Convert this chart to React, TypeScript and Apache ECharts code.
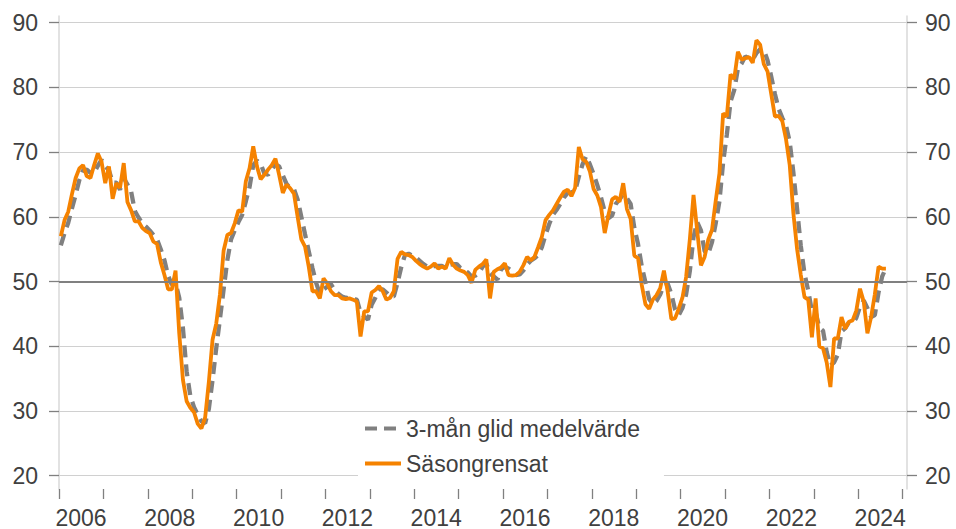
import React, { useEffect, useRef } from 'react';
import * as echarts from 'echarts';

const startYear = 2006;
const yearTicks = [2006, 2007, 2008, 2009, 2010, 2011, 2012, 2013, 2014, 2015, 2016, 2017, 2018, 2019, 2020, 2021, 2022, 2023, 2024, 2025];
const yearLabels = [2006, 2008, 2010, 2012, 2014, 2016, 2018, 2020, 2022, 2024];
const yTicks = [20, 30, 40, 50, 60, 70, 80, 90];
const seriesNames = ['3-mån glid medelvärde', 'Säsongrensat'];

// Monthly values, Jan 2006 onward
const sasongrensat = [
  57.0, 59.5, 60.8, 63.5, 66.0, 67.5, 68.0, 66.3, 66.0, 68.0, 69.8, 68.5,
  65.2, 67.8, 62.8, 65.2, 64.5, 68.3, 62.3, 61.0, 59.3, 59.3, 58.3, 57.8,
  57.5, 56.2, 55.8, 53.0, 51.0, 48.8, 48.8, 51.7, 42.0, 34.8, 31.5, 30.5,
  29.8, 28.0, 27.3, 29.0, 34.5, 41.0, 43.5, 48.0, 54.8, 57.2, 57.5, 59.0,
  61.0, 60.8, 65.5, 67.5, 70.9, 67.8, 65.8, 66.5, 67.3, 68.0, 69.0, 66.5,
  63.7, 65.0, 64.4, 63.6, 60.0, 56.5, 55.4, 52.3, 48.5, 48.5, 47.4, 50.5,
  49.7, 48.5, 47.9, 47.9, 47.4, 47.3, 47.4, 47.2, 46.9, 41.5, 45.4, 45.4,
  48.3, 48.7, 49.3, 48.5, 47.2, 47.5, 48.5, 53.5, 54.6, 54.2, 54.1, 53.8,
  53.2, 52.7, 52.3, 52.0, 52.3, 52.8, 52.0, 52.3, 52.0, 53.6, 52.6, 52.0,
  51.7, 51.5, 51.0, 49.8, 51.8, 52.3, 52.7, 53.4, 47.4, 51.5, 51.9, 52.2,
  52.8, 51.0, 50.9, 51.0, 51.5, 52.5, 53.8, 53.3, 53.8, 55.3, 56.9, 59.5,
  60.3, 61.0, 62.0, 63.0, 63.9, 64.2, 63.2, 64.5, 70.8, 68.9, 68.5, 67.0,
  64.3, 63.3, 61.5, 57.5, 60.3, 62.7, 63.1, 62.3, 65.2, 61.2, 59.7, 54.0,
  53.6, 49.5, 46.5, 45.8, 47.2, 47.9, 49.0, 51.7, 48.5, 44.2, 44.3, 45.8,
  47.5, 50.7, 56.5, 63.4, 57.8, 52.5, 53.8, 56.5, 58.0, 62.5, 66.7, 76.0,
  75.5, 82.0, 81.3, 85.5, 84.3, 84.5, 84.7, 83.8, 87.3, 86.6, 83.6, 82.5,
  79.0, 75.5, 75.6, 74.8, 72.0, 68.0, 60.5, 55.0, 51.0, 47.6, 47.2, 41.4,
  47.4, 40.0, 39.7, 37.5, 33.7, 41.2, 41.2, 44.5, 42.7, 43.8, 44.0, 45.5,
  48.9, 46.9, 42.0, 44.5, 48.0, 52.3, 52.0, 52.0,
];

const glidMedel = [
  55.6, 57.5, 59.1, 61.3, 63.4, 65.7, 67.2, 67.3, 66.8, 66.8, 67.9, 68.8,
  67.8, 67.2, 65.3, 65.3, 64.2, 66.0, 65.0, 63.9, 60.9, 59.9, 59.0, 58.5,
  57.9, 57.2, 56.5, 55.0, 53.3, 50.9, 49.5, 49.8, 47.5, 42.8, 36.1, 32.3,
  30.6, 29.4, 28.4, 28.1, 30.3, 34.8, 39.7, 44.2, 48.8, 53.3, 56.5, 57.9,
  59.2, 60.3, 62.4, 64.6, 68.0, 68.7, 68.2, 66.7, 66.5, 67.3, 68.1, 67.8,
  66.4, 65.1, 64.4, 64.3, 62.7, 60.0, 57.3, 54.7, 52.1, 49.8, 48.1, 48.8,
  49.2, 49.6, 48.7, 48.1, 47.7, 47.5, 47.4, 47.3, 47.2, 45.2, 44.6, 44.1,
  46.4, 47.5, 48.8, 48.8, 48.3, 47.7, 47.7, 49.8, 52.2, 54.1, 54.3, 54.0,
  53.7, 53.2, 52.7, 52.3, 52.2, 52.4, 52.4, 52.4, 52.1, 52.6, 52.7, 52.7,
  52.1, 51.7, 51.4, 50.8, 50.9, 51.3, 52.3, 52.8, 51.2, 50.8, 50.3, 51.9,
  52.3, 52.0, 51.6, 51.0, 51.1, 51.7, 52.6, 53.2, 53.6, 54.1, 55.3, 57.2,
  58.9, 60.3, 61.1, 62.0, 63.0, 63.7, 63.8, 64.0, 66.2, 68.1, 69.4, 68.1,
  66.6, 64.9, 63.0, 60.8, 59.8, 60.2, 62.0, 62.7, 63.5, 62.9, 62.0, 58.3,
  55.8, 52.4, 49.9, 47.3, 46.5, 47.0, 48.0, 49.5, 49.7, 48.1, 45.7, 44.8,
  45.9, 48.0, 51.6, 56.9, 59.2, 57.9, 54.7, 54.3, 56.1, 59.0, 62.4, 68.4,
  72.7, 77.8, 79.6, 82.9, 83.7, 84.8, 84.5, 84.3, 85.3, 85.9, 85.8, 84.2,
  81.7, 79.0, 76.7, 75.3, 74.1, 71.6, 66.8, 61.2, 55.5, 51.2, 48.6, 45.4,
  45.3, 42.9, 42.4, 39.1, 37.0, 37.5, 38.7, 42.3, 42.8, 43.7, 43.5, 44.4,
  46.1, 47.1, 45.9, 44.5, 44.8, 48.3, 50.8, 52.1,
];

const FONT = 'Arial, "Liberation Sans", sans-serif';
const TEXT = '#404040';

const toPoints = (arr: number[]) => arr.map((v, i) => [startYear + (i + 0.5) / 12, v]);

export default function App() {
  const ref = useRef<HTMLDivElement>(null);
  useEffect(() => {
    if (!ref.current) return;
    const chart = echarts.init(ref.current, undefined, { renderer: 'svg' });
    const yAxisBase = {
      type: 'value',
      min: 17.94,
      max: 91.04,
      axisLine: { show: true, lineStyle: { color: '#d9d9d9', width: 1.5 } },
      axisTick: { show: true, customValues: yTicks, length: 10, lineStyle: { color: '#808080', width: 1.3 } },
    };
    chart.setOption({
      animation: false,
      textStyle: { fontFamily: FONT },
      grid: { left: 59, right: 49, top: 16, bottom: 40 },
      xAxis: {
        type: 'value',
        min: 2006,
        max: 2025.1,
        axisLine: { show: false },
        axisTick: { show: true, customValues: yearTicks, length: 10, lineStyle: { color: '#808080', width: 1.3 } },
        axisLabel: {
          customValues: yearLabels,
          margin: 17,
          formatter: (v: number) => `{a|${v}}`,
          rich: { a: { padding: [0, 0, 0, 44], fontSize: 23, color: TEXT, fontFamily: FONT } },
        },
        splitLine: { show: false },
      },
      yAxis: [
        {
          ...yAxisBase,
          position: 'left',
          axisLabel: { customValues: yTicks, margin: 21, fontSize: 23, color: TEXT, fontFamily: FONT },
          splitLine: { show: true, lineStyle: { color: '#d0d0d0', width: 1.2 } },
        },
        {
          ...yAxisBase,
          position: 'right',
          axisLabel: { customValues: yTicks, margin: 18, fontSize: 23, color: TEXT, fontFamily: FONT },
          splitLine: { show: false },
        },
      ],
      legend: {
        orient: 'vertical',
        left: 358,
        top: 413,
        backgroundColor: '#ffffff',
        padding: [4, 24, 6, 5],
        itemWidth: 36,
        itemHeight: 14,
        itemGap: 12,
        itemStyle: { opacity: 0 },
        lineStyle: { width: 4 },
        textStyle: { fontSize: 23, color: TEXT, fontFamily: FONT },
        data: seriesNames,
      },
      series: [
        {
          name: seriesNames[0],
          type: 'line',
          data: toPoints(glidMedel),
          symbol: 'none',
          showSymbol: false,
          lineStyle: { color: '#808080', width: 4.3, type: [12, 7] },
          itemStyle: { color: '#808080' },
          markLine: {
            silent: true,
            symbol: 'none',
            label: { show: false },
            lineStyle: { color: '#808080', width: 2, type: 'solid' },
            data: [{ yAxis: 50 }],
          },
          z: 2,
        },
        {
          name: seriesNames[1],
          type: 'line',
          data: toPoints(sasongrensat),
          symbol: 'none',
          showSymbol: false,
          lineStyle: { color: '#F58200', width: 3.8 },
          itemStyle: { color: '#F58200' },
          z: 3,
        },
      ],
    });
    return () => chart.dispose();
  }, []);
  return (
    <div
      ref={ref}
      style={{ position: 'absolute', left: 0, top: 0, width: 956, height: 529, background: '#fff' }}
    />
  );
}
